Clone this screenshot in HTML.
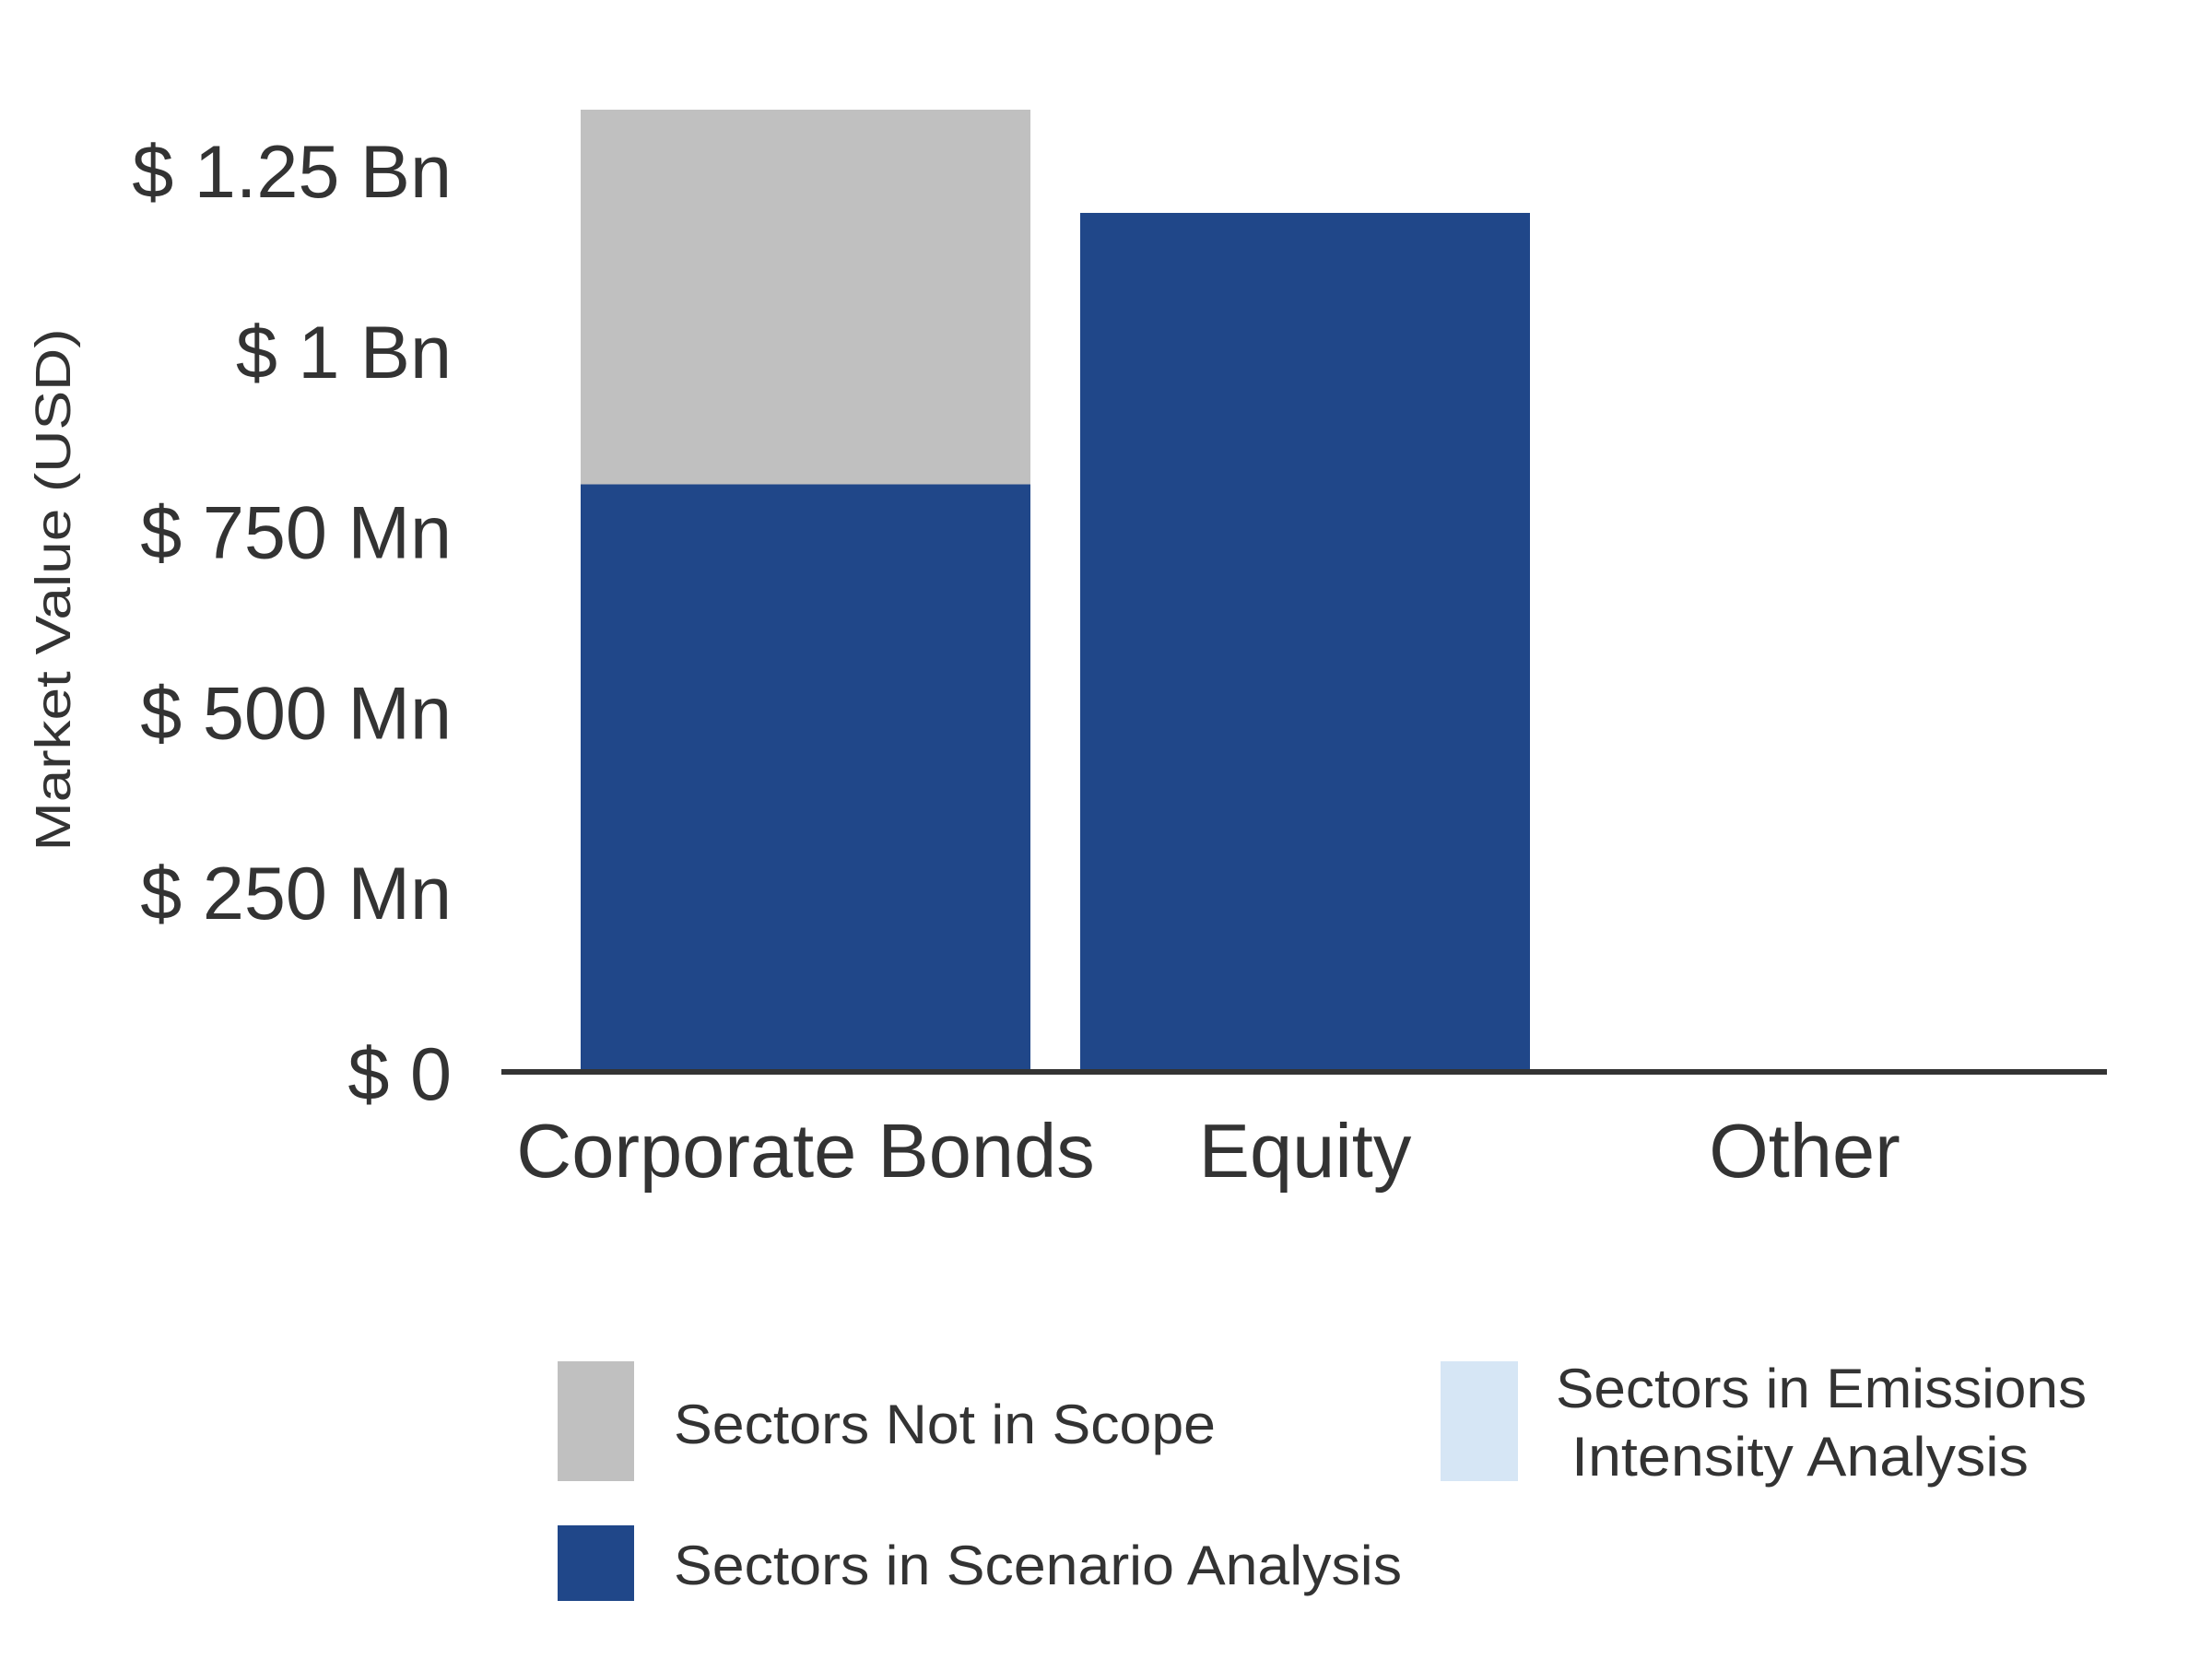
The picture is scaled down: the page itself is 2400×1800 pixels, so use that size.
<!DOCTYPE html>
<html><head><meta charset="utf-8"><style>
html,body{margin:0;padding:0;background:#fff;}
svg{display:block;}
text{font-family:"Liberation Sans",sans-serif;fill:#333;}
</style></head><body>
<svg id="chart" width="2400" height="1800" viewBox="0 0 2400 1800" xmlns="http://www.w3.org/2000/svg">
<g id="plot"></g>
<line x1="544" y1="1163" x2="2286" y2="1163" stroke="#333" stroke-width="6"/>
<text transform="translate(76,640) rotate(-90)" text-anchor="middle" font-size="54" textLength="567" lengthAdjust="spacingAndGlyphs">Market Value (USD)</text>
<g>
<rect x="605" y="1477" width="83" height="130" fill="#c0c0c0"/>
<text x="731" y="1566" font-size="60" textLength="588" lengthAdjust="spacingAndGlyphs">Sectors Not in Scope</text>
<rect x="605" y="1655" width="83" height="82" fill="#204789"/>
<text x="731" y="1719" font-size="60" textLength="790" lengthAdjust="spacingAndGlyphs">Sectors in Scenario Analysis</text>
<rect x="1563" y="1477" width="84" height="130" fill="#d6e6f5"/>
<text x="1688" y="1527" font-size="60" textLength="576" lengthAdjust="spacingAndGlyphs">Sectors in Emissions</text>
<text x="1705" y="1601" font-size="60" textLength="496" lengthAdjust="spacingAndGlyphs">Intensity Analysis</text>
</g>
</svg>
<script>
const categories = ["Corporate Bonds", "Equity", "Other"];
const scenarioValues = [814, 1190, 0];      // Mn USD
const notInScopeValues = [519, 0, 0];       // Mn USD
const emissionsValues = [0, 0, 0];          // Mn USD
const tickValues = [0, 250, 500, 750, 1000, 1250];
const tickLabels = ["$ 0", "$ 250 Mn", "$ 500 Mn", "$ 750 Mn", "$ 1 Bn", "$ 1.25 Bn"];

const NS = "http://www.w3.org/2000/svg";
const plot = document.getElementById("plot");
const y0 = 1163, pxPerMn = 195.8 / 250;
function yScale(v){ return y0 - v * pxPerMn; }
const bandStart = 630, bandStep = 542, barW = 488;
function xScale(i){ return bandStart + i * bandStep; }

function mk(tag, attrs){
  const e = document.createElementNS(NS, tag);
  for (const k in attrs) e.setAttribute(k, attrs[k]);
  return e;
}

tickValues.forEach((v, i) => {
  const t = mk("text", {x: 490, y: yScale(v) + 30, "text-anchor": "end", "font-size": 81});
  
  
  t.textContent = tickLabels[i];
  plot.appendChild(t);
});

categories.forEach((c, i) => {
  const x = xScale(i);
  let base = 0;
  const series = [[scenarioValues, "#204789", "bar-scenario"], [notInScopeValues, "#c0c0c0", "bar-not-in-scope"], [emissionsValues, "#d6e6f5", "bar-emissions"]];
  series.forEach(([arr, col, nm]) => {
    const v = arr[i];
    if (v > 0) {
      const r = mk("rect", {x: x, y: yScale(base + v), width: barW, height: v * pxPerMn, fill: col});
      
      
      plot.appendChild(r);
    }
    base += v;
  });
  const t = mk("text", {x: x + barW / 2, y: 1277, "text-anchor": "middle", "font-size": 83});
  
  
  t.textContent = c;
  plot.appendChild(t);
});
</script>
</body></html>
